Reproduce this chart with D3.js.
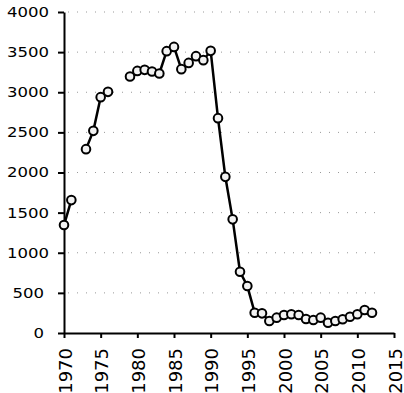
<!DOCTYPE html>
<html>
<head>
<meta charset="utf-8">
<script src="https://cdn.jsdelivr.net/npm/d3@7"></script>
<style>
  body { margin: 0; background: #fff; }
  svg { display: block; }
  .axis text { font-family: "DejaVu Sans", sans-serif; fill: #000; }
  .axis path, .axis line { stroke: #000; stroke-width: 2; }
</style>
</head>
<body>
<svg width="404" height="393"></svg>
<script>
// data (null = no value that year)
var years = [1970,1971,1972,1973,1974,1975,1976,1977,1978,1979,
             1980,1981,1982,1983,1984,1985,1986,1987,1988,1989,
             1990,1991,1992,1993,1994,1995,1996,1997,1998,1999,
             2000,2001,2002,2003,2004,2005,2006,2007,2008,2009,
             2010,2011,2012];
var values = [1345,1656,null,2291,2519,2939,3005,null,null,3197,
              3266,3279,3259,3234,3512,3565,3288,3366,3450,3400,
              3516,2677,1946,1416,763,585,253,245,150,191,
              224,233,224,174,162,191,128,150,171,203,
              233,286,253];
var yTicks = [0,500,1000,1500,2000,2500,3000,3500,4000];
var xTicks = [1970,1975,1980,1985,1990,1995,2000,2005,2010,2015];

var data = years.map(function(d,i){ return {year: d, value: values[i]}; });

var svg = d3.select("svg");

var x = d3.scaleLinear()
          .domain([1970, 2015])
          .range([64, 394]);

var y = d3.scaleLinear()
          .domain([0, 4000])
          .range([333, 12]);

// dotted grid
svg.append("g")
   .selectAll("line")
   .data(yTicks.filter(function(d){ return d > 0; }))
   .enter().append("line")
     .attr("x1", x(1970) + 4)
     .attr("x2", x(2013))
     .attr("y1", function(d){ return y(d); })
     .attr("y2", function(d){ return y(d); })
     .attr("stroke", "#999")
     .attr("stroke-width", 1)
     .attr("stroke-dasharray", "1,8");

// y axis
var yAxis = svg.append("g")
   .attr("class", "axis")
   .attr("transform", "translate(64,0)")
   .call(d3.axisLeft(y).tickValues(yTicks).tickFormat(d3.format("d"))
           .tickSize(6).tickSizeOuter(0).tickPadding(9));

// labels are drawn wide in the picture
yAxis.selectAll("text")
     .style("font-size", "14px")
     .attr("textLength", function(d){ return String(d).length * 10.5; })
     .attr("lengthAdjust", "spacingAndGlyphs")
     .attr("dx", function(d){ return String(d).length < 4 ? -5 : 0; });

// x axis
var xAxis = svg.append("g")
   .attr("class", "axis")
   .attr("transform", "translate(0,333)")
   .call(d3.axisBottom(x).tickValues(xTicks).tickFormat(d3.format("d"))
           .tickSize(5).tickSizeOuter(0));

xAxis.selectAll("text")
     .style("font-size", "18px")
     .attr("transform", "rotate(-90)")
     .attr("text-anchor", "end")
     .attr("x", -15)
     .attr("y", 1)
     .attr("dy", "0.35em");

// line
var line = d3.line()
             .defined(function(d){ return d.value !== null; })
             .x(function(d){ return x(d.year); })
             .y(function(d){ return y(d.value); });

svg.append("path")
   .datum(data)
   .attr("fill", "none")
   .attr("stroke", "#000")
   .attr("stroke-width", 2.5)
   .attr("d", line);

// markers
svg.selectAll(".dot")
   .data(data.filter(function(d){ return d.value !== null; }))
   .enter().append("circle")
     .attr("class", "dot")
     .attr("cx", function(d){ return x(d.year); })
     .attr("cy", function(d){ return y(d.value); })
     .attr("r", 4.3)
     .attr("fill", "#f2f2f2")
     .attr("stroke", "#000")
     .attr("stroke-width", 2);
</script>
</body>
</html>
